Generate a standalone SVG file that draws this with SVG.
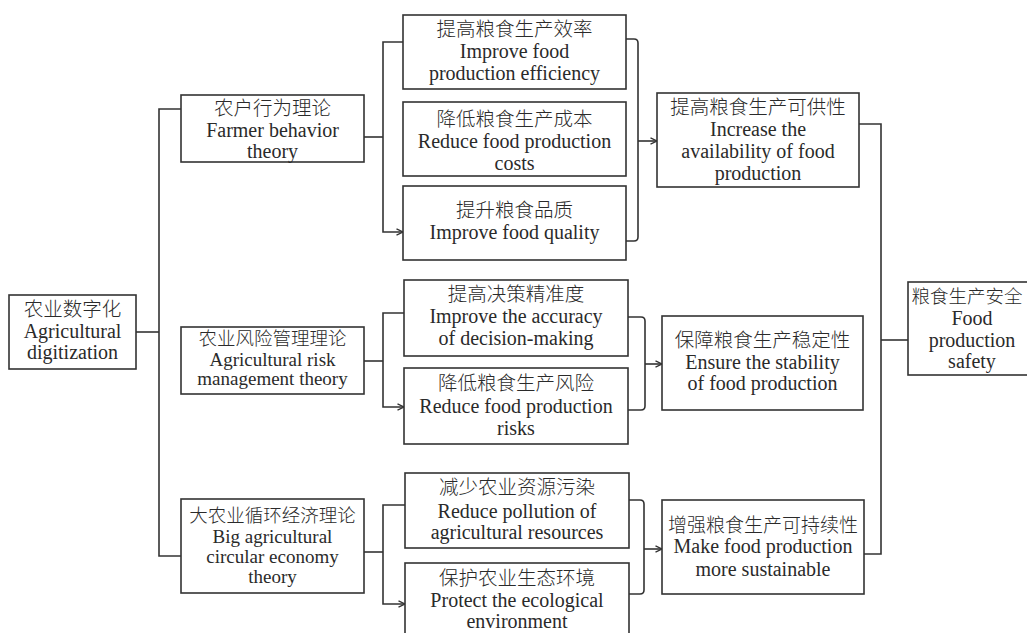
<svg xmlns="http://www.w3.org/2000/svg" width="1027" height="633" viewBox="0 0 1027 633">
<style>
rect{fill:#fff;stroke:#333;stroke-width:1.6}
text{font-family:"Liberation Serif","Noto Sans CJK SC",serif;font-size:20px;fill:#2a2a2a;text-anchor:middle}
.zh{font-family:"Noto Sans CJK SC","Liberation Serif",sans-serif;font-weight:300;font-size:19.5px}
.s text{font-size:19px}
.s text.zh{font-size:18.5px}
.c path,.c line{fill:none;stroke:#333;stroke-width:1.6}
</style>
<defs>
<marker id="ar" viewBox="0 0 8 8" refX="7.5" refY="4" markerWidth="8" markerHeight="8" markerUnits="userSpaceOnUse" orient="auto">
<path d="M1,0.8 L7.5,4 L1,7.2" fill="none" stroke="#333" stroke-width="1.3"/>
</marker>
</defs>
<rect x="0" y="0" width="1027" height="633" style="fill:#fff;stroke:none"/>
<g class="c" id="connectors">
<path d="M136,332 H159"/>
<path d="M181,109 H159 V556 H181"/>
<path d="M364,137 H383"/>
<path d="M403,42 H383 V232 H403" marker-start="url(#ar)" marker-end="url(#ar)"/>
<path d="M364,361 H383"/>
<path d="M404,313 H383 V407 H404" marker-start="url(#ar)" marker-end="url(#ar)"/>
<path d="M364,552 H383"/>
<path d="M405,505 H383 V604 H405" marker-start="url(#ar)" marker-end="url(#ar)"/>
<path d="M626,39 H634 Q638,39 638,43 V237 Q638,241 634,241 H626"/>
<path d="M638,141 H657" marker-end="url(#ar)"/>
<path d="M628,317 H641 Q645,317 645,321 V406 Q645,410 641,410 H628"/>
<path d="M645,364 H662" marker-end="url(#ar)"/>
<path d="M629,500 H640 Q644,500 644,504 V590 Q644,594 640,594 H629"/>
<path d="M644,549 H662" marker-end="url(#ar)"/>
<path d="M859,124 H881 V554 H864"/>
<path d="M881,340 H908"/>
</g>
<g id="n-digitization">
<rect x="9" y="295" width="127" height="74"/>
<text x="72.5" y="316" class="zh">农业数字化</text>
<text x="72.5" y="338">Agricultural</text>
<text x="72.5" y="359">digitization</text>
</g>
<g id="n-farmer">
<rect x="181" y="95" width="183" height="67"/>
<text x="272.5" y="115" class="zh">农户行为理论</text>
<text x="272.5" y="137">Farmer behavior</text>
<text x="272.5" y="158">theory</text>
</g>
<g id="n-risk" class="s">
<rect x="181" y="327" width="183" height="67"/>
<text x="272.5" y="345" class="zh">农业风险管理理论</text>
<text x="272.5" y="366">Agricultural risk</text>
<text x="272.5" y="385">management theory</text>
</g>
<g id="n-circular" class="s">
<rect x="181" y="499" width="183" height="94"/>
<text x="272.5" y="522" class="zh">大农业循环经济理论</text>
<text x="272.5" y="543">Big agricultural</text>
<text x="272.5" y="563">circular economy</text>
<text x="272.5" y="583">theory</text>
</g>
<g id="n-efficiency">
<rect x="403" y="15" width="223" height="74"/>
<text x="514.5" y="36" class="zh">提高粮食生产效率</text>
<text x="514.5" y="58">Improve food</text>
<text x="514.5" y="80">production efficiency</text>
</g>
<g id="n-costs">
<rect x="403" y="102" width="223" height="74"/>
<text x="514.5" y="126" class="zh">降低粮食生产成本</text>
<text x="514.5" y="148">Reduce food production</text>
<text x="514.5" y="170">costs</text>
</g>
<g id="n-quality">
<rect x="403" y="186" width="223" height="74"/>
<text x="514.5" y="217" class="zh">提升粮食品质</text>
<text x="514.5" y="239">Improve food quality</text>
</g>
<g id="n-accuracy">
<rect x="404" y="280" width="224" height="76"/>
<text x="516" y="301" class="zh">提高决策精准度</text>
<text x="516" y="323">Improve the accuracy</text>
<text x="516" y="345">of decision-making</text>
</g>
<g id="n-risks">
<rect x="404" y="368" width="224" height="76"/>
<text x="516" y="390" class="zh">降低粮食生产风险</text>
<text x="516" y="413">Reduce food production</text>
<text x="516" y="435">risks</text>
</g>
<g id="n-pollution">
<rect x="405" y="473" width="224" height="75"/>
<text x="517" y="494" class="zh">减少农业资源污染</text>
<text x="517" y="518">Reduce pollution of</text>
<text x="517" y="539">agricultural resources</text>
</g>
<g id="n-ecology">
<rect x="405" y="563" width="224" height="80"/>
<text x="517" y="585" class="zh">保护农业生态环境</text>
<text x="517" y="607">Protect the ecological</text>
<text x="517" y="628">environment</text>
</g>
<g id="n-availability">
<rect x="657" y="93" width="202" height="94"/>
<text x="758" y="114" class="zh">提高粮食生产可供性</text>
<text x="758" y="136">Increase the</text>
<text x="758" y="158">availability of food</text>
<text x="758" y="180">production</text>
</g>
<g id="n-stability">
<rect x="662" y="316" width="201" height="94"/>
<text x="762.5" y="347" class="zh">保障粮食生产稳定性</text>
<text x="762.5" y="369">Ensure the stability</text>
<text x="762.5" y="390">of food production</text>
</g>
<g id="n-sustainable">
<rect x="662" y="500" width="202" height="94"/>
<text x="763" y="532" class="zh" style="font-size:19px">增强粮食生产可持续性</text>
<text x="763" y="553">Make food production</text>
<text x="763" y="576">more sustainable</text>
</g>
<g id="n-safety">
<rect x="908" y="282" width="130" height="93"/>
<text x="967" y="303" class="zh" style="font-size:18.5px">粮食生产安全</text>
<text x="972" y="325">Food</text>
<text x="972" y="347">production</text>
<text x="972" y="368">safety</text>
</g>
</svg>
